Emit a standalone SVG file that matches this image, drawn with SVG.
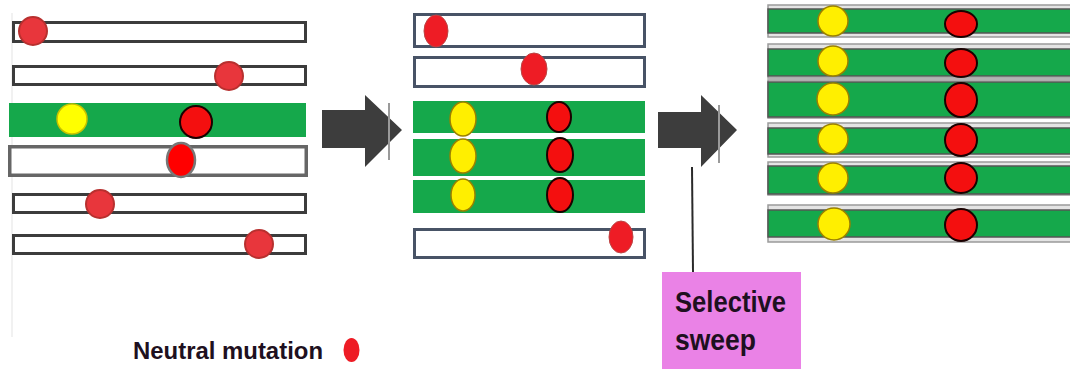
<svg xmlns="http://www.w3.org/2000/svg" width="1070" height="369" viewBox="0 0 1070 369">
<defs>
<style>
.b1{fill:#fff;stroke:#3c3c3c;stroke-width:3}
.b2{fill:#fff;stroke:#485366;stroke-width:3}
.g{fill:#15a84b}
.frame{fill:#e4e4e4;stroke:#9a9a9a;stroke-width:1.5}
.g3{fill:#15a84b;stroke:#555;stroke-width:1.5}
.nm{fill:#e8363c;stroke:#b8302f;stroke-width:2}
.nm2{fill:#ee1c25;stroke:#b44;stroke-width:1}
.rs{fill:#f40f0f;stroke:#1a0000;stroke-width:2}
.ys{fill:#ffef00;stroke:#9a8000;stroke-width:1.5}
.arrow{fill:#3d3d3d}
.tick{stroke:#9a9a9a;stroke-width:2}
.lbl{font-family:"Liberation Sans",Arial,sans-serif;font-weight:bold;fill:#1e1020}
</style>
</defs>
<rect width="1070" height="369" fill="#fff"/>
<line x1="12" y1="13" x2="12" y2="337" stroke="#ececec" stroke-width="1.5"/>

<g id="panel1">
<rect class="b1" x="13.5" y="22.5" width="292" height="19"/>
<circle class="nm" cx="33" cy="31" r="14"/>
<rect class="b1" x="13.5" y="66.5" width="292" height="18"/>
<circle class="nm" cx="229" cy="76" r="14"/>
<rect class="g" x="9" y="103" width="297" height="34"/>
<circle cx="72" cy="119" r="15" fill="#ffff00" stroke="#c8c000" stroke-width="1.5"/>
<circle class="rs" cx="196" cy="122" r="16"/>
<rect x="9.75" y="146.75" width="296.5" height="28.5" fill="#fff" stroke="#666" stroke-width="3.5"/>
<ellipse cx="181" cy="160" rx="14" ry="17" fill="#f00" stroke="#777" stroke-width="2.5"/>
<rect class="b1" x="13.5" y="194.5" width="292" height="18"/>
<circle class="nm" cx="100" cy="204" r="14"/>
<rect class="b1" x="13.5" y="235.5" width="292" height="18"/>
<circle class="nm" cx="259" cy="244" r="14"/>
</g>

<g id="panel2">
<rect class="b2" x="414.5" y="14.5" width="230" height="32"/>
<ellipse class="nm2" cx="436" cy="31" rx="12" ry="16"/>
<rect class="b2" x="414.5" y="57.5" width="230" height="29"/>
<ellipse class="nm2" cx="534" cy="69" rx="13" ry="16"/>
<rect class="g" x="413" y="101" width="232" height="32"/>
<ellipse class="ys" cx="463" cy="119" rx="13" ry="17"/>
<ellipse class="rs" cx="559" cy="117" rx="12" ry="15"/>
<rect class="g" x="413" y="139" width="232" height="37"/>
<ellipse class="ys" cx="463" cy="156" rx="13" ry="17"/>
<ellipse class="rs" cx="560" cy="155" rx="13" ry="17"/>
<rect class="g" x="413" y="180" width="232" height="33"/>
<ellipse class="ys" cx="463" cy="195" rx="12" ry="16"/>
<ellipse class="rs" cx="560" cy="195" rx="13" ry="17"/>
<rect class="b2" x="414.5" y="229.5" width="230" height="28"/>
<ellipse class="nm2" cx="621" cy="237" rx="12" ry="16"/>
</g>

<g id="panel3">
<rect class="frame" x="768" y="5" width="310" height="32"/>
<rect class="g3" x="768" y="9" width="310" height="24"/>
<circle class="ys" cx="833" cy="21" r="15"/>
<ellipse class="rs" cx="961" cy="24" rx="16" ry="13"/>
<rect class="frame" x="768" y="44" width="310" height="34"/>
<rect class="g3" x="768" y="49" width="310" height="27"/>
<circle class="ys" cx="833" cy="61" r="15"/>
<ellipse class="rs" cx="961" cy="63" rx="16" ry="14"/>
<rect class="frame" x="768" y="80" width="310" height="38"/>
<rect class="g3" x="768" y="82" width="310" height="35"/>
<circle class="ys" cx="833" cy="99" r="16"/>
<ellipse class="rs" cx="961" cy="100" rx="16" ry="17"/>
<rect class="frame" x="768" y="123" width="310" height="34"/>
<rect class="g3" x="768" y="128" width="310" height="26"/>
<circle class="ys" cx="833" cy="139" r="15"/>
<ellipse class="rs" cx="961" cy="140" rx="16" ry="16"/>
<rect class="frame" x="768" y="162" width="310" height="33"/>
<rect class="g3" x="768" y="166" width="310" height="28"/>
<circle class="ys" cx="833" cy="178" r="15"/>
<ellipse class="rs" cx="961" cy="178" rx="16" ry="15"/>
<rect class="frame" x="768" y="205" width="310" height="37"/>
<rect class="g3" x="768" y="210" width="310" height="27"/>
<circle class="ys" cx="834" cy="224" r="16"/>
<ellipse class="rs" cx="961" cy="225" rx="16" ry="16"/>
</g>

<g id="arrows">
<polygon class="arrow" points="322,110 365,110 365,95 402,130 365,167 365,148 322,148"/>
<line class="tick" x1="389" y1="103" x2="389" y2="160"/>
<polygon class="arrow" points="658,112 701,112 701,95 737,130 701,167 701,148 658,148"/>
<line class="tick" x1="719" y1="105" x2="719" y2="163"/>
</g>

<g id="connectors">
<line x1="692" y1="167" x2="693" y2="272" stroke="#2a2a2a" stroke-width="2"/>
</g>

<g id="selective-sweep">
<rect x="662" y="272" width="139" height="97" fill="#ea82e6"/>
<text class="lbl" x="675" y="312" font-size="29" textLength="111" lengthAdjust="spacingAndGlyphs">Selective</text>
<text class="lbl" x="675" y="350" font-size="29" textLength="81" lengthAdjust="spacingAndGlyphs">sweep</text>
</g>

<g id="legend">
<text class="lbl" x="133" y="359" font-size="24" textLength="190" lengthAdjust="spacingAndGlyphs">Neutral mutation</text>
<ellipse cx="351.5" cy="350" rx="8" ry="12" fill="#ee1c25"/>
</g>
</svg>
